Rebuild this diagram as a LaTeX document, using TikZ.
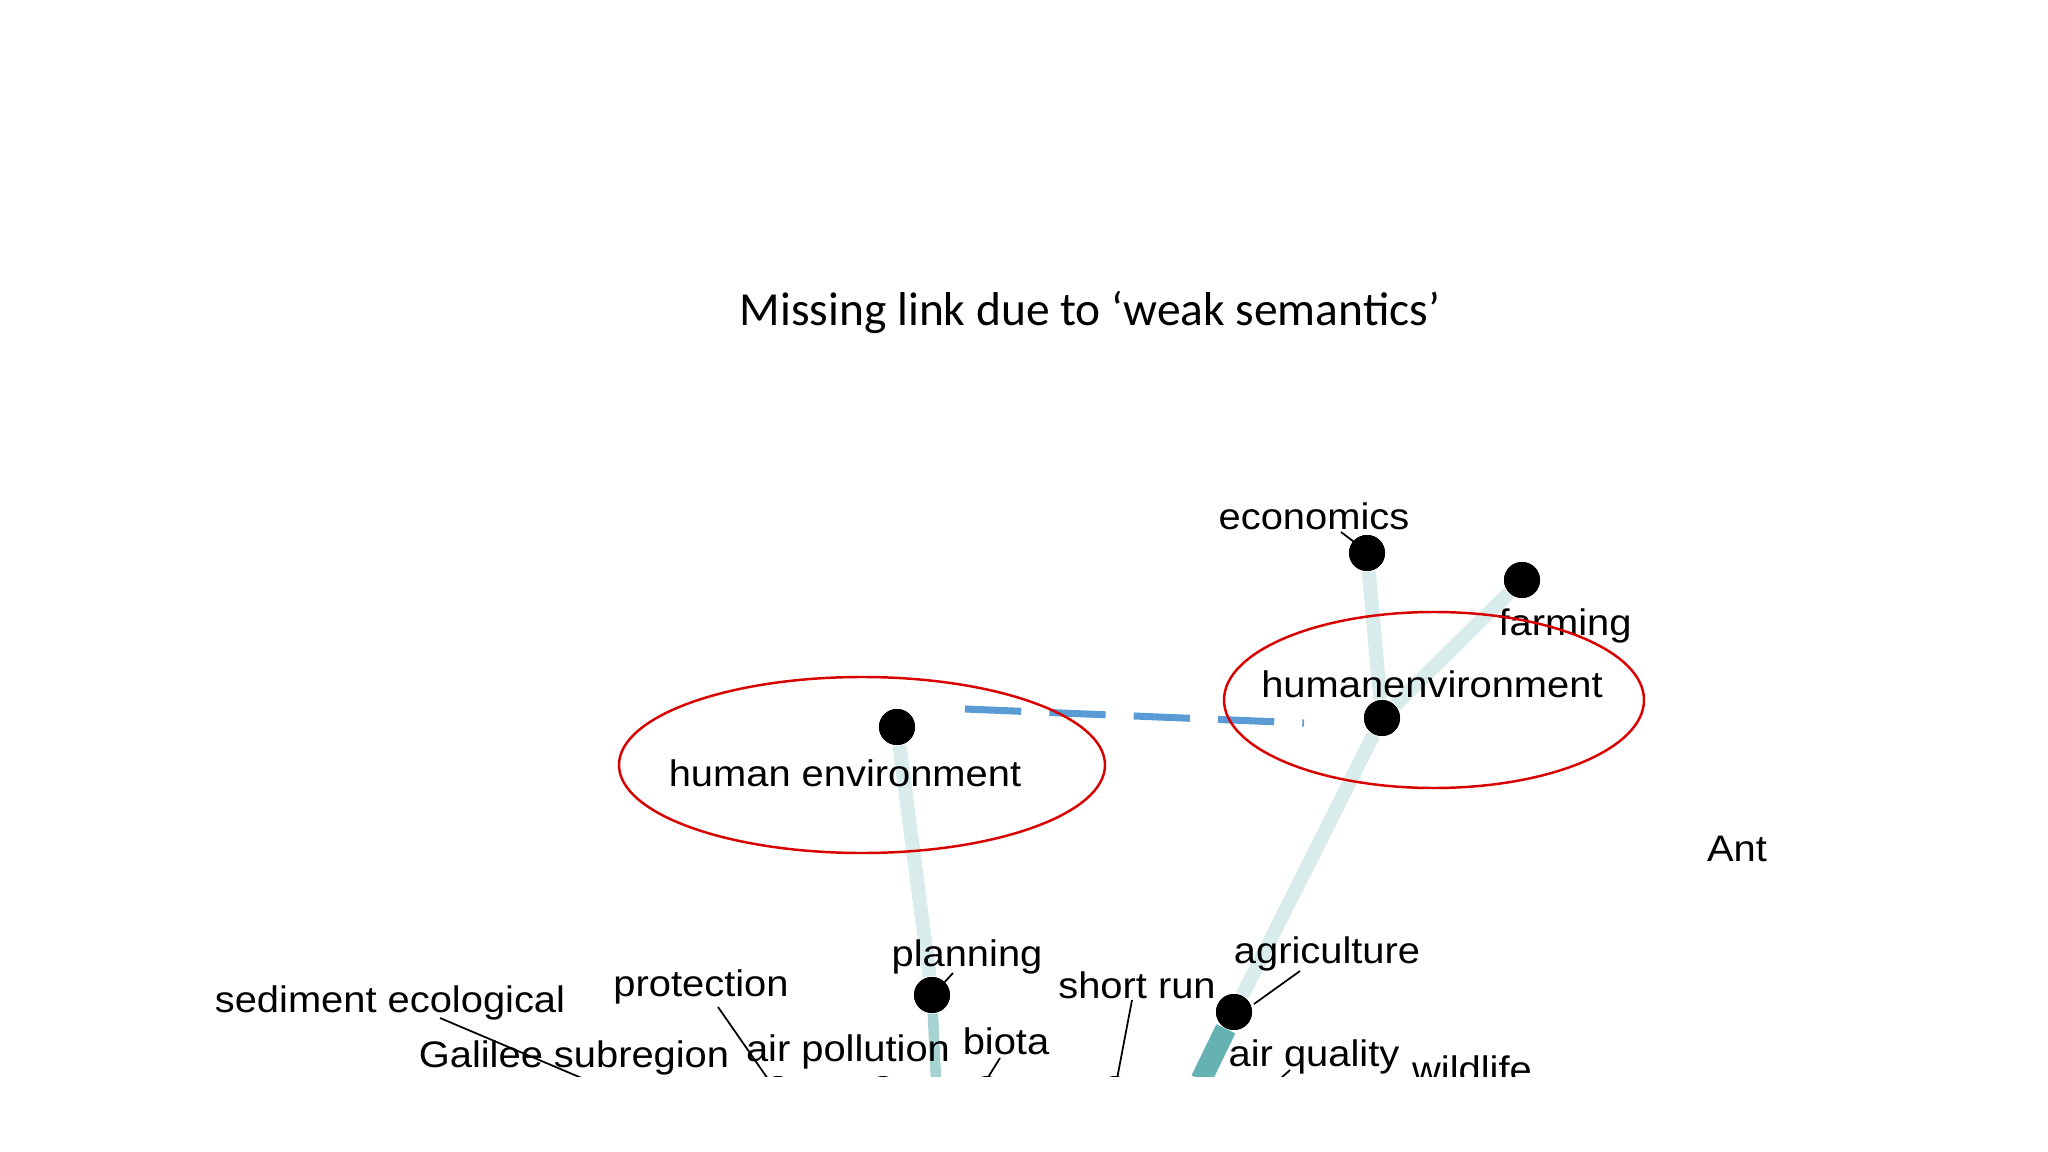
\documentclass[tikz,border=0pt]{standalone}
\usepackage{fontspec}
\setmainfont{Liberation Sans}
\newfontfamily\titlefont{Carlito}
\begin{document}
\begin{tikzpicture}[x=0.01cm,y=-0.01cm,
  dot/.style={circle,fill=black,inner sep=0pt,minimum size=36\pgflinewidth*0+0.36cm},
  lbl/.style={inner sep=0pt,font=\fontsize{10.5}{12}\selectfont,xscale=1.08},
  weak/.style={line width=4pt,color=teal!15},
  lead/.style={line width=0.5pt,black},
  ring/.style={draw=red!85!black,line width=0.7pt}]
\useasboundingbox (0,0) rectangle (2048,1152);
\node[font=\titlefont\fontsize{13.5}{16}\selectfont] (title) at (1090,312) {Missing link due to ‘weak semantics’};
\begin{scope}
\clip (0,0) rectangle (2048,1076);
\node[dot] (eco) at (1367,553) {};
\node[dot] (farm) at (1522,580) {};
\node[dot] (hen) at (1382,718) {};
\node[dot] (he) at (897,727) {};
\node[dot] (plan) at (932,995) {};
\node[dot] (agri) at (1234,1012) {};
\node[dot] (b1) at (778,1094) {};
\node[dot] (b2) at (883,1094) {};
\node[dot] (b3) at (987,1094) {};
\node[dot] (b4) at (1115,1094) {};
\coordinate (pb) at (936,1080);
\coordinate (ab) at (1201,1080);
\begin{scope}[on background layer/.try]
\end{scope}
\draw[weak] (eco) -- (hen);
\draw[weak] (farm) -- (hen);
\draw[weak] (hen) -- (agri);
\draw[weak] (he) -- (plan);
\draw[line width=3pt,color=teal!35] (plan) -- (pb);
\draw[line width=6pt,color=teal!60] (agri) -- (ab);
\node[dot] at (eco) {};\node[dot] at (farm) {};\node[dot] at (hen) {};
\node[dot] at (he) {};\node[dot] at (plan) {};\node[dot] at (agri) {};
\node[lbl] (leco) at (1314,516) {economics};
\node[lbl] (lfarm) at (1565,626) {farming};
\node[lbl] (lhen) at (1432,684) {humanenvironment};
\node[lbl] (lhe) at (845,773) {human environment};
\node[lbl] (lplan) at (967,957) {planning};
\node[lbl] (lagri) at (1327,954) {agriculture};
\node[lbl] (lant) at (1737,849) {Ant};
\node[lbl] (lprot) at (701,987) {protection};
\node[lbl] (lsed) at (390,1003) {sediment ecological};
\node[lbl] (lgal) at (574,1058) {Galilee subregion};
\node[lbl] (lair) at (848,1052) {air pollution};
\node[lbl] (lbio) at (1006,1041) {biota};
\node[lbl] (lshort) at (1137,985) {short run};
\node[lbl] (laq) at (1314,1057) {air quality};
\node[lbl] (lwild) at (1472,1069) {wildlife};
\draw[lead] (440,1018) -- (584,1079);
\draw[lead] (718,1007) -- (768,1079);
\draw[lead] (1000,1058) -- (987,1079);
\draw[lead] (1132,1000) -- (1117,1079);
\draw[lead] (1300,971) -- (1254,1004);
\draw[lead] (1290,1070) -- (1280,1079);
\draw[lead] (1341,532) -- (1358,545);
\draw[lead] (953,973) -- (942,985);
\end{scope}
\draw[line width=2pt,color=blue!45!cyan!70!black!80,dash pattern=on 16pt off 8pt,color={rgb,255:red,91;green,155;blue,213}] (965,709) -- (1304,723);
\draw[ring] (862,765) ellipse [x radius=243, y radius=88];
\draw[ring] (1434,700) ellipse [x radius=210, y radius=88];
\end{tikzpicture}
\end{document}
